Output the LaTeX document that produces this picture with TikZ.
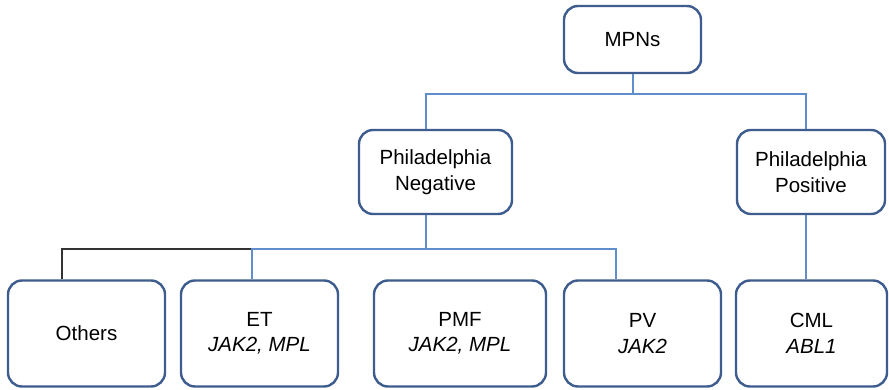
\documentclass[tikz,border=0pt]{standalone}
\usepackage{fontspec}
\setmainfont{Liberation Sans}
\usepackage{xcolor}
\usetikzlibrary{positioning}
\definecolor{boxblue}{RGB}{62,92,142}
\definecolor{linkblue}{RGB}{95,142,205}
\begin{document}
\begin{tikzpicture}[
    x=1pt, y=-1pt,
    box/.style={rectangle, rounded corners=14pt, draw=boxblue, line width=2.4pt, fill=white, align=center, inner sep=0pt, minimum height=106pt, font=\fontsize{20.5}{25.5}\selectfont},
    midbox/.style={box, minimum height=84pt, minimum width=150pt},
    link/.style={draw=linkblue, line width=2pt},
    otherlink/.style={draw=black!80, line width=1.3pt}
]
\useasboundingbox (0,0) rectangle (889,390);
\coordinate (topbar) at (633,94);
\coordinate (etjoin) at (252,249);
\coordinate (pvjoin) at (616,249);

\node[box, minimum width=137pt, minimum height=67pt] (mpns) at (632.5,39.5) {MPNs};
\node[midbox, minimum width=153pt] (phneg) at (435.5,172) {Philadelphia\\Negative};
\node[midbox, minimum width=148pt] (phpos) at (811,172) {Philadelphia\\Positive};

\node[box, minimum width=157pt] (others) at (86.5,333.5) {Others};
\node[box, minimum width=157pt] (et) at (259.5,333.5) {ET\\\textit{JAK2, MPL}};
\node[box, minimum width=172pt] (pmf) at (460,333.5) {PMF\\\textit{JAK2, MPL}};
\node[box, minimum width=157pt] (pv) at (642.5,333.5) {PV\\\textit{JAK2}};
\node[box, minimum width=151pt] (cml) at (811.5,333.5) {CML\\\textit{ABL1}};

\draw[link] (mpns.south) -- (mpns.south |- topbar);
\draw[link] ([xshift=-10pt]phneg.north) |- (topbar) -| ([xshift=-5pt]phpos.north);
\draw[otherlink] ([xshift=-24.5pt]others.north) |- (etjoin);
\draw[link] ([xshift=-10pt]phneg.south) -- ([xshift=-10pt]phneg.south |- etjoin);
\draw[link] (et.north -| etjoin) -- (etjoin) -- (pvjoin) -- (pv.north -| pvjoin);
\draw[link] ([xshift=-5pt]phpos.south) -- ([xshift=-5pt]phpos.south |- cml.north);
\end{tikzpicture}
\end{document}
